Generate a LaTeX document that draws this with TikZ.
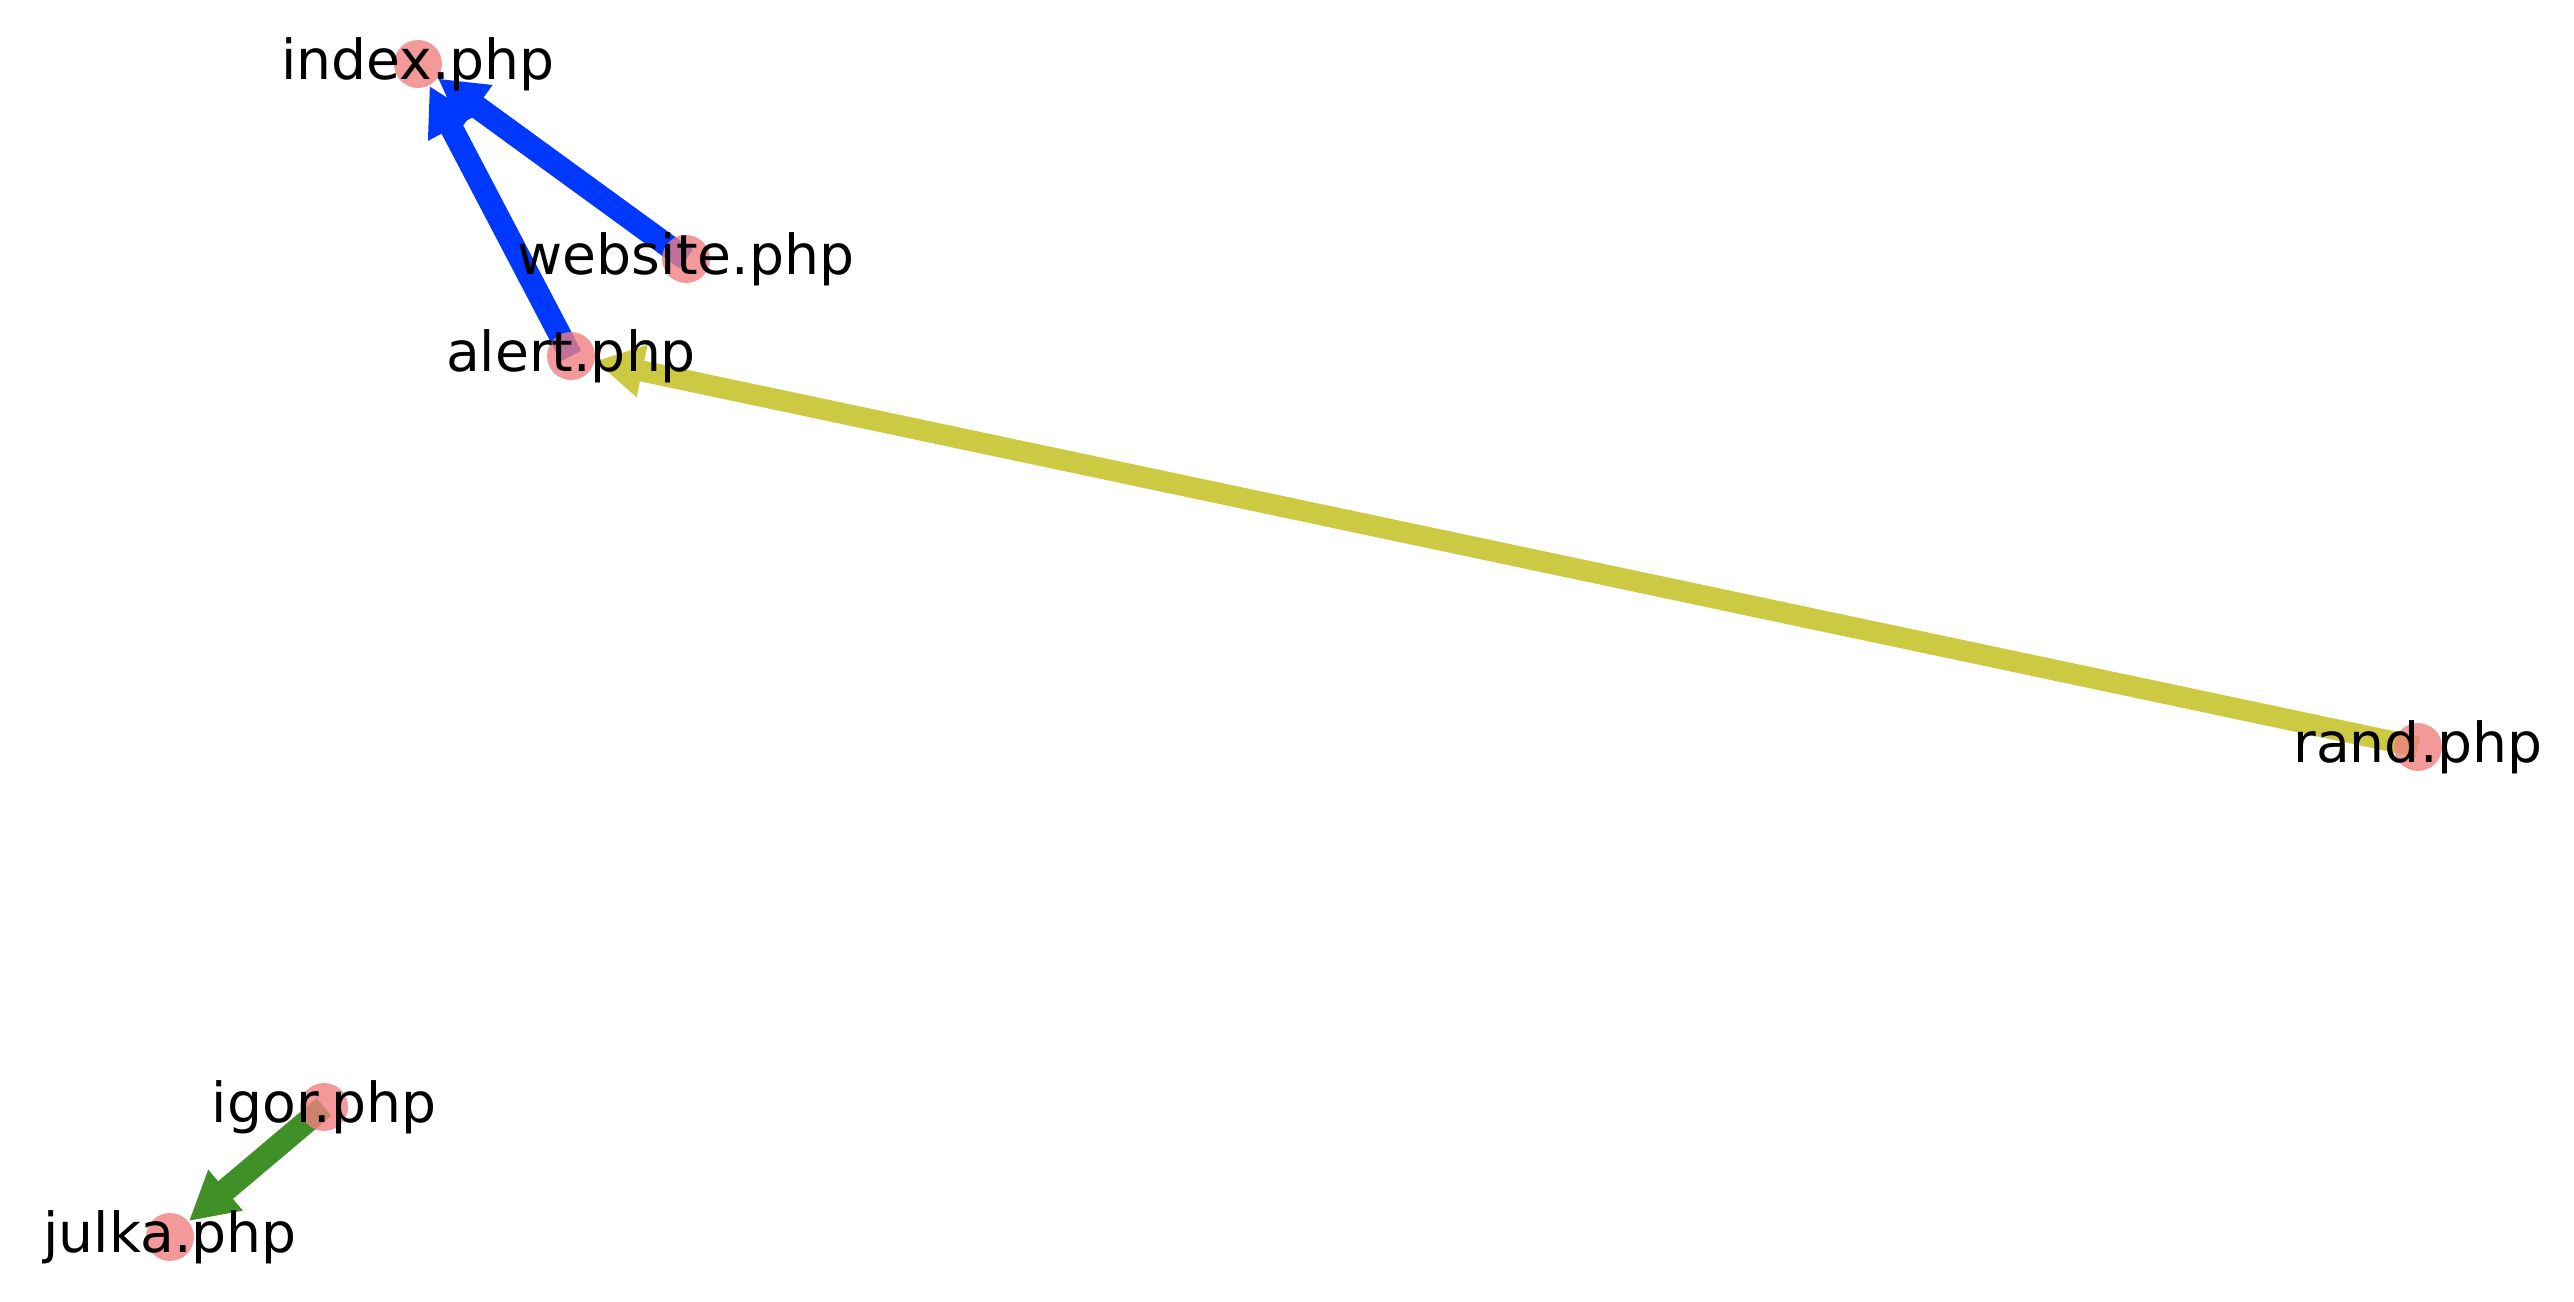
\documentclass[tikz,border=0pt]{standalone}
\usepackage{fontspec}
\setmainfont{DejaVu Sans}
\usetikzlibrary{arrows.meta,backgrounds}

\definecolor{pagered}{RGB}{240,128,128}
\definecolor{linkblue}{RGB}{0,56,255}
\definecolor{linkyellow}{RGB}{204,201,66}
\definecolor{linkgreen}{RGB}{64,144,40}

\tikzset{
    page/.style={circle,fill=pagered,fill opacity=0.8,draw=none,inner sep=0pt,minimum size=0.48cm},
    pagename/.style={inner sep=0pt,font=\fontsize{15.7}{18}\selectfont},
    link/.style={line width=0.23cm,-{Triangle[length=0.48cm,width=0.5cm]}}
}

\begin{document}
\begin{tikzpicture}
    \useasboundingbox (0,0) rectangle (25.74,13.02);
    %pages
    \node[page] (index) at (4.18,12.38) {};
    \node[page] (website) at (6.86,10.43) {};
    \node[page] (alert) at (5.71,9.46) {};
    \node[page] (rand) at (24.18,5.55) {};
    \node[page] (igor) at (3.24,1.95) {};
    \node[page] (julka) at (1.70,0.65) {};
    %links
    \begin{scope}[on background layer]
    \draw[link,linkblue] (alert.center) -- (index);
    \draw[link,linkblue] (website.center) -- (index);
    \draw[link,linkyellow,line width=0.21cm] (rand.center) -- (alert);
    \draw[link,linkgreen] (igor.center) -- (julka);
    \end{scope}
    %names
    \node[pagename] (indexname) at (index) {index.php};
    \node[pagename] (websitename) at (website) {website.php};
    \node[pagename] (alertname) at (alert) {alert.php};
    \node[pagename] (randname) at (rand) {rand.php};
    \node[pagename] (igorname) at (igor) {igor.php};
    \node[pagename] (julkaname) at (julka) {julka.php};
\end{tikzpicture}
\end{document}
